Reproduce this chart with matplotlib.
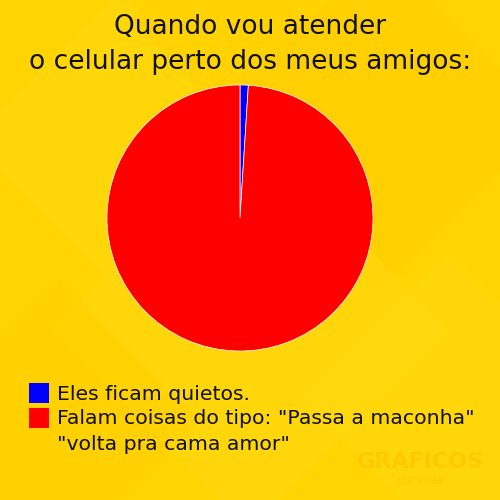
import matplotlib.pyplot as plt
from matplotlib.patches import Polygon, Rectangle

title = 'Quando vou atender\no celular perto dos meus amigos:'
labels = ['Eles ficam quietos.',
          'Falam coisas do tipo: "Passa a maconha"\n"volta pra cama amor"']
values = [1, 99]
colors = ['#0000FF', '#FF0000']

fig = plt.figure(figsize=(5, 5), dpi=100)
fig.patch.set_facecolor('#FFD400')

# faint diamond pattern in the background
bg = fig.add_axes([0, 0, 1, 1])
bg.set_xlim(0, 500)
bg.set_ylim(500, 0)
bg.axis('off')
for cx, cy, s, c in [(120, 140, 150, '#FFDA10'), (380, 120, 170, '#FFCC00'),
                     (250, 330, 200, '#FFDA14'), (60, 420, 140, '#FFCE00'),
                     (450, 400, 150, '#FFDA12'), (250, 20, 120, '#FFD000')]:
    bg.add_patch(Polygon([(cx, cy - s), (cx + s, cy), (cx, cy + s), (cx - s, cy)],
                         closed=True, fc=c, ec='none', alpha=0.45))

fig.text(0.5, 0.972, title, ha='center', va='top', fontsize=19,
         family='DejaVu Sans', color='#111111', linespacing=1.45)

ax = fig.add_axes([107 / 500, 1 - 351 / 500, 266 / 500, 266 / 500])
ax.pie(values, colors=colors, startangle=90, counterclock=False,
       wedgeprops=dict(edgecolor='white', linewidth=0.5))
ax.set_xlim(-1, 1)
ax.set_ylim(-1, 1)
ax.set_aspect('equal')

# legend
for i, (lab, col) in enumerate(zip(labels, colors)):
    y = 383 + i * 25
    bg.add_patch(Rectangle((29, y), 20, 20, fc=col, ec='none'))
    for j, line in enumerate(lab.split('\n')):
        bg.text(57, y + 11 + j * 25, line, ha='left', va='center',
                fontsize=14.7, color='#111111', family='DejaVu Sans')

# watermark
bg.text(420, 462, 'GRAFICOS', ha='center', va='center', fontsize=16,
        fontweight='bold', color='#FFC400', alpha=0.7)
bg.text(420, 480, 'da vida', ha='center', va='center', fontsize=9,
        style='italic', color='#FFC400', alpha=0.7)

fig.savefig('out.png', dpi=100, facecolor=fig.get_facecolor())
